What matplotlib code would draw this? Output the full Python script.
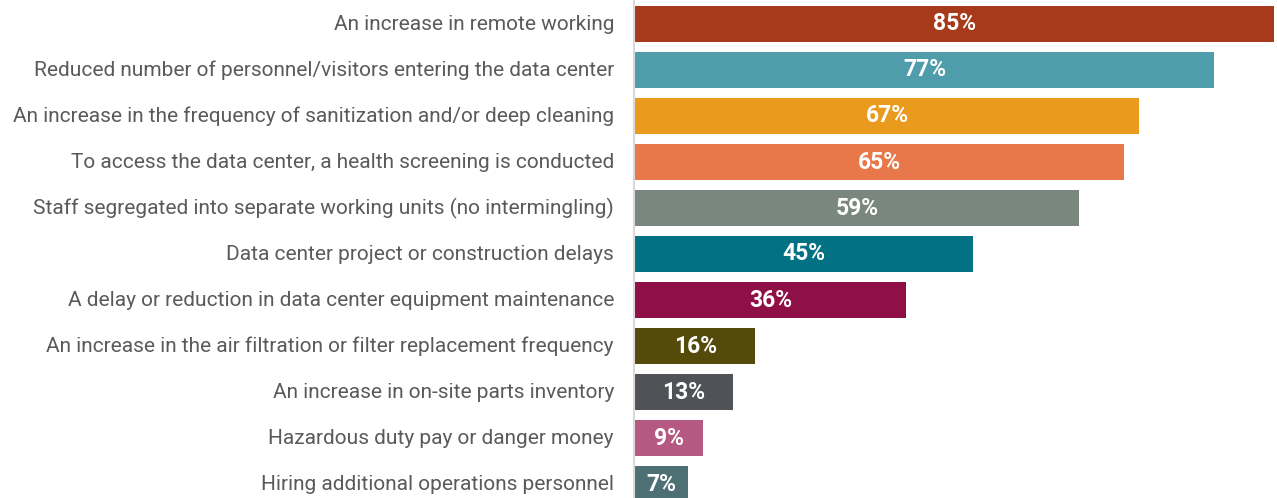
import matplotlib.pyplot as plt

plt.rcParams['font.family'] = ['Roboto', 'DejaVu Sans']

labels = [
    "An increase in remote working",
    "Reduced number of personnel/visitors entering the data center",
    "An increase in the frequency of sanitization and/or deep cleaning",
    "To access the data center, a health screening is conducted",
    "Staff segregated into separate working units (no intermingling)",
    "Data center project or construction delays",
    "A delay or reduction in data center equipment maintenance",
    "An increase in the air filtration or filter replacement frequency",
    "An increase in on-site parts inventory",
    "Hazardous duty pay or danger money",
    "Hiring additional operations personnel",
]
values = [85, 77, 67, 65, 59, 45, 36, 16, 13, 9, 7]
colors = ["#A83A1C", "#4F9DAA", "#EA9A1C", "#E8774A", "#7A877E", "#037184",
          "#8F0F47", "#544B0B", "#4F5358", "#B55983", "#4D7075"]

W, H = 1277, 498
fig = plt.figure(figsize=(W / 100, H / 100), dpi=100)
ax = fig.add_axes([634 / W, 0, 1 - 634 / W, 1])

pos = list(range(len(values)))
ax.barh(pos, values, height=36 / 46, color=colors, left=0.15)

# px per percent from the 85% bar
scale = 639 / 85
ax.set_xlim(0, (W - 634) / scale)
ax.set_ylim((H - 24) / 46, -24 / 46)

for i, v in enumerate(values):
    ax.text(v / 2 + 0.15, i, f"{v}%", ha='center', va='center', color='white',
            fontsize=16.5, fontweight='bold')
    ax.text(-20 / scale, i, labels[i], ha='right', va='center',
            color='#5a5a5a', fontsize=15)

ax.set_xticks([])
ax.set_yticks([])
for s in ['top', 'right', 'bottom']:
    ax.spines[s].set_visible(False)
ax.spines['left'].set_color('#D9D9D9')
ax.spines['left'].set_linewidth(1.5)

fig.savefig("out.png", dpi=100)
